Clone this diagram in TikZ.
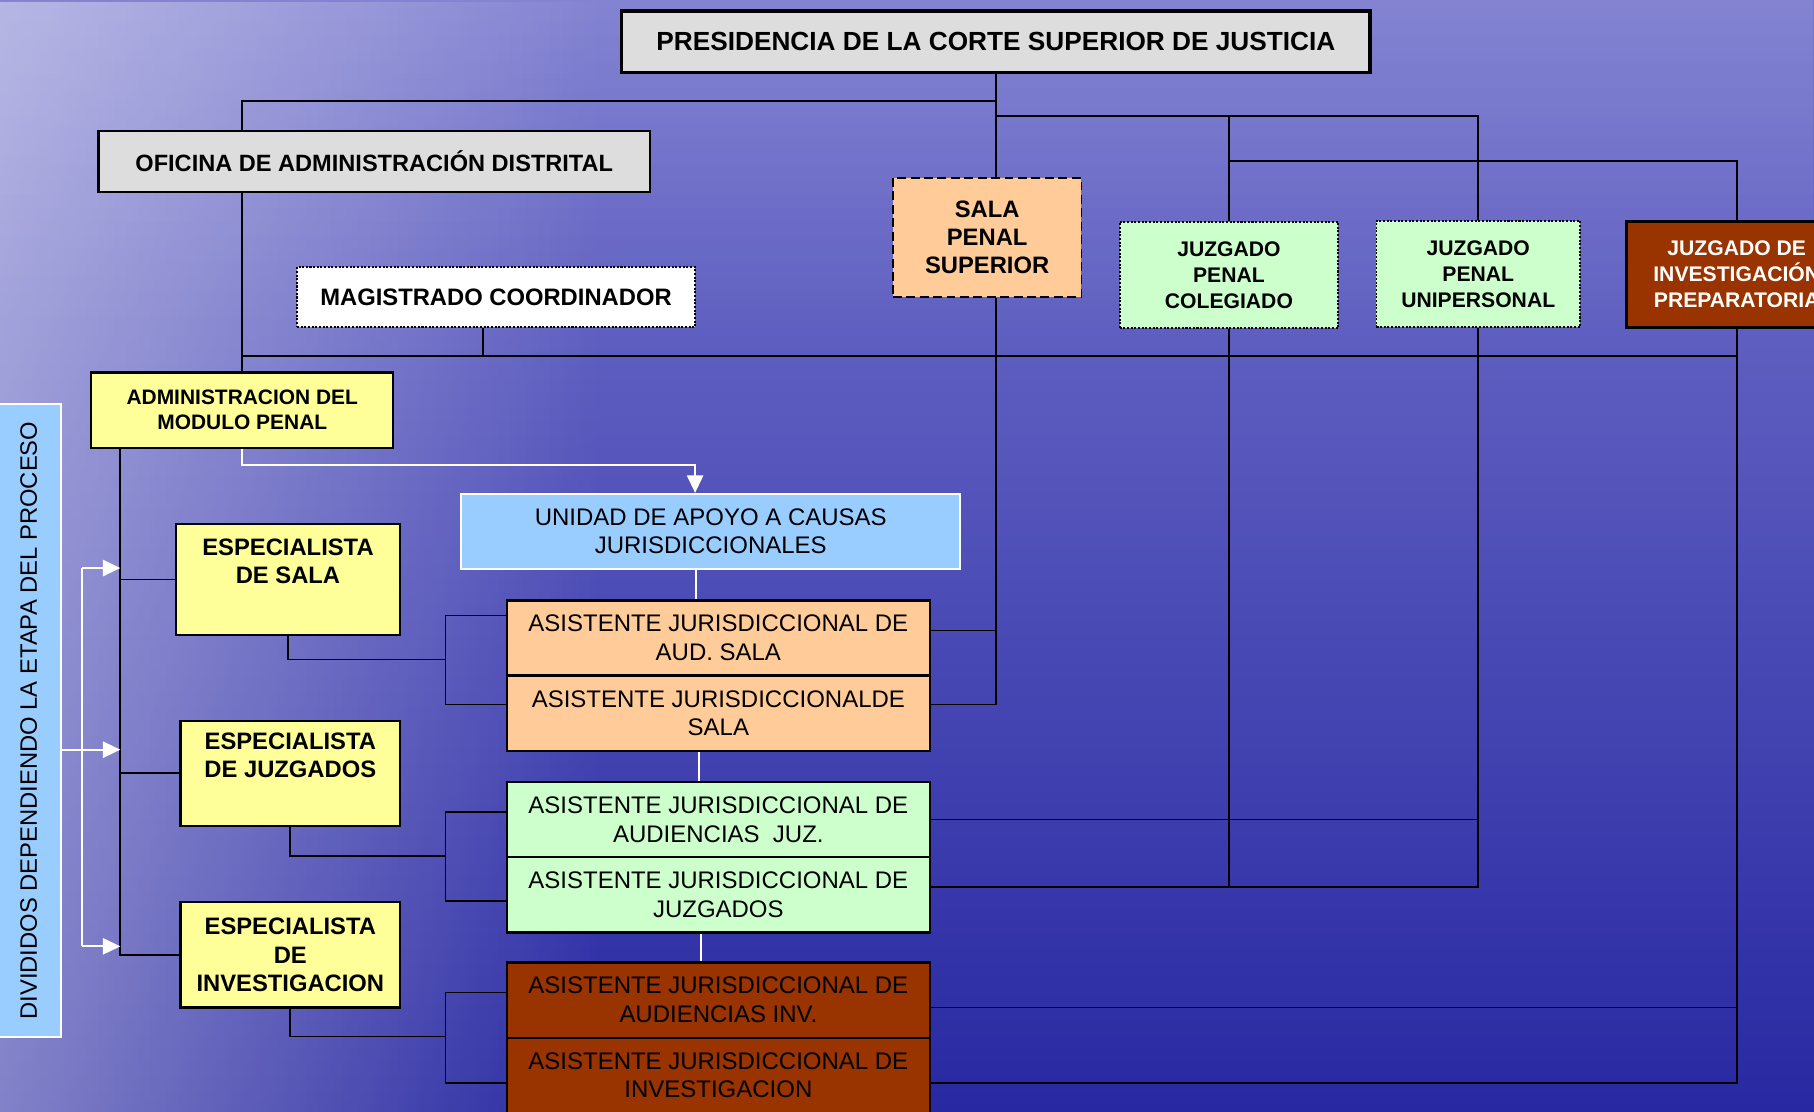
\documentclass[tikz,border=0pt]{standalone}
\usepackage{fontspec}
\setmainfont{Liberation Sans}
\usetikzlibrary{positioning, arrows.meta, fadings}
\usepackage{xcolor}

\definecolor{boxgray}{HTML}{DDDDDD}
\definecolor{peach}{HTML}{FFCC99}
\definecolor{mint}{HTML}{CCFFCC}
\definecolor{rust}{HTML}{993300}
\definecolor{paleyellow}{HTML}{FFFF99}
\definecolor{skyblue}{HTML}{99CCFF}
\definecolor{bgtop}{HTML}{7676CE}
\definecolor{bgmid}{HTML}{3A3AB0}
\definecolor{bgbot}{HTML}{2828A2}

\begin{document}
\begin{tikzpicture}[
        x=0.02cm, y=-0.02cm,
        % Styles
        box/.style={draw, line width=0.9pt, anchor=north west, align=center, inner sep=1pt},
        head/.style={box, fill=boxgray, line width=1.6pt, font=\bfseries\fontsize{12.9}{15}\selectfont},
        office/.style={box, fill=boxgray, line width=1.2pt, font=\bfseries\fontsize{11.6}{14}\selectfont},
        coord/.style={box, fill=white, dash pattern=on 1pt off 0.8pt, font=\bfseries\fontsize{11.7}{14}\selectfont},
        salabox/.style={box, fill=peach, dash pattern=on 4.4pt off 2.2pt, font=\bfseries\fontsize{11.7}{13.9}\selectfont},
        juzg/.style={box, fill=mint, dash pattern=on 1pt off 0.8pt, font=\bfseries\fontsize{10.4}{12.8}\selectfont},
        juzinv/.style={box, fill=rust, line width=1.4pt, text=white, font=\bfseries\fontsize{10.4}{12.8}\selectfont},
        modulo/.style={box, fill=paleyellow, line width=1.1pt, font=\bfseries\fontsize{10.3}{12.5}\selectfont},
        espec/.style={box, fill=paleyellow, line width=1.1pt, font=\bfseries\fontsize{11.7}{13.9}\selectfont},
        asist/.style={box, line width=1.1pt, minimum width=7.32cm, minimum height=1.30cm, font=\fontsize{11.8}{14.2}\selectfont},
        unidadbox/.style={box, fill=skyblue, draw=white, line width=1pt, font=\fontsize{11.8}{13.6}\selectfont},
        etapabox/.style={box, fill=skyblue, draw=white, line width=1pt, font=\fontsize{11.7}{14}\selectfont},
        conn/.style={draw=black, line width=0.85pt},
        wconn/.style={draw=white, line width=0.9pt},
        warrow/.style={wconn, -{Triangle[length=0.3cm, width=0.28cm]}},
    ]
        \clip (0,0) rectangle (1568,961);

        % === Background ===
        \shade[top color=bgtop, middle color=bgmid, bottom color=bgbot] (0,0) rectangle (1568,961);
        \fill[white, opacity=0.42, path fading=east] (0,0) rectangle (520,961);
        \fill[white, opacity=0.1, path fading=south] (0,0) rectangle (1568,300);

        % === Top level ===
        \node[head, minimum width=12.94cm, minimum height=1.06cm] (pres) at (536,8) {PRESIDENCIA DE LA CORTE SUPERIOR DE JUSTICIA};
        \node[office, minimum width=9.54cm, minimum height=1.06cm] (ofi) at (84,112) {OFICINA DE ADMINISTRACIÓN DISTRITAL};
        \node[coord, minimum width=6.88cm, minimum height=1.04cm] (mag) at (256,230) {MAGISTRADO COORDINADOR};

        % === Salas and juzgados ===
        \node[salabox, minimum width=3.26cm, minimum height=2.06cm] (sala) at (771,153) {SALA\\PENAL\\SUPERIOR};
        \node[juzg, minimum width=3.78cm, minimum height=1.84cm] (jcol) at (967,191) {JUZGADO\\PENAL\\COLEGIADO};
        \node[juzg, minimum width=3.52cm, minimum height=1.84cm] (juni) at (1189,190) {JUZGADO\\PENAL\\UNIPERSONAL};
        \node[juzinv, minimum width=3.80cm, minimum height=1.84cm] (jip) at (1405,190) {JUZGADO DE\\INVESTIGACIÓN\\PREPARATORIA};

        % === Modulo penal ===
        \node[modulo, minimum width=5.22cm, minimum height=1.30cm] (adm) at (78,321) {ADMINISTRACION DEL\\MODULO PENAL};
        \node[etapabox, minimum width=1.12cm, minimum height=10.96cm] (etapa) at (-4,348) {\rotatebox{90}{DIVIDIDOS DEPENDIENDO LA ETAPA DEL PROCESO}};
        \node[unidadbox, minimum width=8.62cm, minimum height=1.30cm] (unidad) at (398,426) {UNIDAD DE APOYO A CAUSAS\\JURISDICCIONALES};

        % Especialistas
        \node[espec, minimum width=3.88cm, minimum height=1.92cm] (esala) at (151,452) {ESPECIALISTA\\DE SALA\\\strut};
        \node[espec, minimum width=3.80cm, minimum height=1.82cm] (ejuz) at (155,622) {ESPECIALISTA\\DE JUZGADOS\\\strut};
        \node[espec, minimum width=3.80cm, minimum height=1.82cm] (einv) at (155,779) {ESPECIALISTA\\DE\\INVESTIGACION};

        % Asistentes jurisdiccionales
        \node[asist, fill=peach] (asala1) at (437,518) {ASISTENTE JURISDICCIONAL DE\\AUD. SALA};
        \node[asist, fill=peach] (asala2) at (437,583) {ASISTENTE JURISDICCIONALDE\\SALA};
        \node[asist, fill=mint] (ajuz1) at (437,675) {ASISTENTE JURISDICCIONAL DE\\AUDIENCIAS~~JUZ.};
        \node[asist, fill=mint] (ajuz2) at (437,740) {ASISTENTE JURISDICCIONAL DE\\JUZGADOS};
        \node[asist, fill=rust] (ainv1) at (437,831) {ASISTENTE JURISDICCIONAL DE\\AUDIENCIAS INV.};
        \node[asist, fill=rust] (ainv2) at (437,896) {ASISTENTE JURISDICCIONAL DE\\INVESTIGACION};

        % === Bus lines and junctions ===
        \coordinate (busA) at (0,87);
        \coordinate (busB) at (0,100);
        \coordinate (busC) at (0,139);
        \coordinate (busD) at (0,308);
        \coordinate (lx) at (104,0);
        \coordinate (kS) at (385,570);
        \coordinate (kJ) at (385,740);
        \coordinate (kI) at (385,896);

        \coordinate (rS1) at ([yshift=0.13cm]asala1.east);
        \coordinate (rS2) at ([yshift=0.15cm]asala2.east);
        \coordinate (rJ1) at (ajuz1.east);
        \coordinate (rJ2) at ([yshift=0.13cm]ajuz2.east);
        \coordinate (rI1) at ([yshift=-0.13cm]ainv1.east);
        \coordinate (rI2) at ([yshift=-0.13cm]ainv2.east);

        \coordinate (lS1) at ([yshift=0.39cm]asala1.west);
        \coordinate (lS2) at ([yshift=0.15cm]asala2.west);
        \coordinate (lJ1) at ([yshift=0.13cm]ajuz1.west);
        \coordinate (lJ2) at ([yshift=-0.11cm]ajuz2.west);
        \coordinate (lI1) at ([yshift=0.13cm]ainv1.west);
        \coordinate (lI2) at ([yshift=-0.13cm]ainv2.west);

        % === Top connectors ===
        \draw[conn] (pres.south) -- (pres.south |- sala.north);
        \draw[conn] (pres.south |- busA) -| (adm.north |- ofi.north);
        \draw[conn] (pres.south |- busB) -| (juni.north);
        \draw[conn] (jcol.north) -- (jcol.north |- busB);
        \draw[conn] (jcol.north |- busC) -| (jip.north);

        % === Middle bus ===
        \draw[conn] (adm.north |- ofi.south) -- (adm.north);
        \coordinate (mx) at ([xshift=-0.22cm]mag.south);
        \draw[conn] (mx) -- (mx |- busD);
        \draw[conn] (adm.north |- busD) -- (jip.south |- busD);

        % === Salas/juzgados down to asistentes ===
        \draw[conn] (pres.south |- sala.south) |- (rS2);
        \draw[conn] (rS1) -- (rS1 -| pres.south);
        \draw[conn] (jcol.south) -- (jcol.south |- rJ2);
        \draw[conn] (rJ1) -| (juni.south);
        \draw[conn] (rJ2) -| (juni.south);
        \draw[conn] (rI1) -- (rI1 -| jip.south);
        \draw[conn] (rI2) -| (jip.south);

        % === Modulo to especialistas ===
        \draw[conn] (lx |- adm.south) |- (einv.west);
        \draw[conn] (esala.west) -- (esala.west -| lx);
        \draw[conn] (ejuz.west) -- (ejuz.west -| lx);

        % Especialistas to asistentes
        \draw[conn] (esala.south) |- (kS);
        \draw[conn] (lS1) -| (kS) |- (lS2);
        \draw[conn] (ejuz.south) |- (kJ);
        \draw[conn] (lJ1) -| (kJ) |- (lJ2);
        \draw[conn] (einv.south) |- (kI);
        \draw[conn] (lI1) -| (kI) |- (lI2);

        % === White connectors ===
        \draw[warrow] (adm.south) -- ++(0,14) -| ([xshift=-0.27cm]unidad.north);
        \coordinate (w1) at ([xshift=-0.25cm]unidad.south);
        \draw[wconn] (w1) -- (w1 |- asala1.north);
        \coordinate (w2) at ([xshift=-0.34cm]asala2.south);
        \draw[wconn] (w2) -- (w2 |- ajuz1.north);
        \coordinate (w3) at ([xshift=-0.30cm]ajuz2.south);
        \draw[wconn] (w3) -- (w3 |- ainv1.north);

        % Etapa arrows
        \coordinate (a1) at (71,491);
        \coordinate (a2) at (71,648);
        \coordinate (a3) at (71,818);
        \draw[wconn] (a1) -- (a3);
        \draw[warrow] (a1) -- (a1 -| lx);
        \draw[warrow] (etapa.east |- a2) -- (a2 -| lx);
        \draw[warrow] (a3) -- (a3 -| lx);

    \end{tikzpicture}
\end{document}
